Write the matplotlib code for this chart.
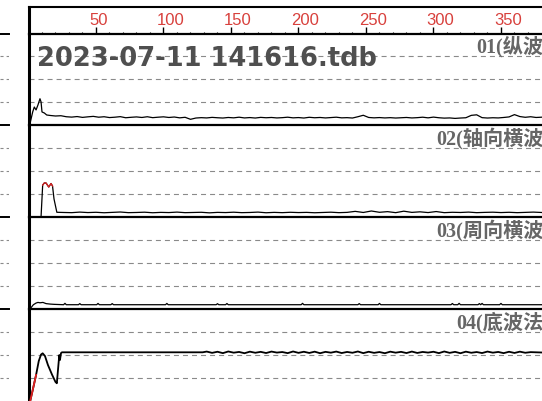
import numpy as np
import matplotlib
matplotlib.use("Agg")
import matplotlib.pyplot as plt
from matplotlib.transforms import blended_transform_factory, ScaledTranslation

plt.rcParams['lines.scale_dashes'] = False

# ---- data ----
title = "2023-07-11 141616.tdb"
channel_labels = ["01(纵波)", "02(轴向横波)", "03(周向横波)", "04(底波法)"]
ruler_major = [50, 100, 150, 200, 250, 300, 350]
ruler_minor = [10, 20, 30, 40, 60, 70, 80, 90, 110, 120, 130, 140, 160, 170, 180, 190,
               210, 220, 230, 240, 260, 270, 280, 290, 310, 320, 330, 340, 360, 370]
grid_levels = [25, 50, 75]

x1 = [1.1, 3.1, 4.3, 5.6, 7.0, 8.5, 9.3, 10.0, 11.7, 13.5,
      16, 20, 24, 28, 32, 36, 40, 44, 48, 52,
      56, 60, 64, 68, 72, 76, 80, 84, 88, 92,
      96, 100, 104, 108, 112, 116, 120, 124, 128, 132,
      136, 140, 144, 148, 152, 156, 160, 164, 168, 172,
      176, 180, 184, 188, 192, 196, 200, 204, 208, 212,
      216, 220, 224, 228, 232, 236, 240, 244, 248, 252,
      256, 260, 264, 268, 272, 276, 280, 284, 288, 292,
      296, 300, 304, 308, 312, 316, 320, 324, 328, 332,
      336, 340, 344, 348, 352, 356, 360, 364, 368, 372,
      376, 380]
y1 = [1.8, 14.6, 20.0, 16.8, 22.2, 29.0, 25.5, 14.6, 13.5, 11.3,
      10.8, 10.2, 10.5, 9.4, 9.0, 9.6, 8.7, 9.3, 9.8, 8.9,
      9.4, 8.5, 8.9, 9.5, 8.3, 8.8, 9.2, 8.6, 9.4, 8.4,
      8.9, 9.3, 8.6, 9.1, 8.2, 8.8, 6.6, 8.0, 8.4, 8.1,
      8.7, 8.3, 8.0, 8.6, 8.2, 8.9, 8.1, 8.5, 8.0, 8.7,
      8.3, 8.6, 8.1, 8.4, 8.9, 8.2, 8.5, 8.0, 8.8, 8.3,
      8.6, 8.1, 8.5, 8.9, 8.2, 8.4, 8.0, 9.4, 11.0, 8.6,
      8.2, 8.5, 8.1, 8.4, 8.0, 8.3, 8.6, 8.1, 8.4, 8.9,
      8.2, 9.0, 8.3, 7.9, 8.1, 7.6, 8.0, 8.3, 10.9, 11.5,
      8.4, 8.0, 8.3, 8.1, 8.6, 9.2, 11.7, 9.6, 8.8, 9.4,
      8.6, 8.9]

x2 = [0, 9.3, 10.5, 11.7, 13.0, 15.0, 16.7, 17.8, 18.9, 21.0,
      26, 32, 38, 44, 50, 56, 62, 68, 74, 80,
      86, 92, 98, 104, 110, 116, 122, 128, 134, 140,
      146, 152, 158, 164, 170, 176, 182, 188, 194, 200,
      206, 212, 218, 224, 230, 236, 242, 248, 254, 260,
      266, 272, 278, 284, 290, 296, 302, 308, 314, 320,
      326, 332, 338, 344, 350, 356, 362, 368, 374, 380]
y2 = [0.6, 0.6, 35.0, 37.3, 37.3, 32.9, 36.7, 34.0, 19.9, 5.4,
      5.2, 5.0, 5.6, 5.1, 5.4, 4.9, 5.3, 5.7, 5.0, 5.2,
      5.5, 4.9, 5.3, 5.1, 5.6, 5.0, 5.2, 5.4, 4.8, 5.3,
      5.1, 5.5, 5.0, 5.2, 5.6, 4.9, 5.3, 5.0, 5.4, 5.1,
      5.3, 4.9, 5.2, 5.5, 5.0, 5.3, 6.4, 5.2, 6.8, 5.4,
      6.1, 5.0, 6.6, 5.3, 5.9, 5.1, 6.2, 5.0, 5.4, 5.2,
      5.6, 5.0, 5.3, 5.5, 5.1, 5.4, 5.0, 5.3, 5.6, 5.2]

x3 = [1.1, 3.6, 5.6, 7.0, 8.5, 10.7, 13.0, 16.0, 19.0, 26,
      27, 28, 37, 38, 39, 50.5, 51.5, 52.5, 61, 62,
      63, 101.5, 102.5, 103.5, 139, 140, 141, 146, 147, 148,
      202, 203, 204, 244, 245, 246, 259, 260, 261, 313,
      314, 315, 318, 319, 320, 333, 334, 335, 336, 337,
      338, 349, 350, 351, 380]
y3 = [0.1, 4.8, 6.6, 7.3, 6.9, 7.3, 6.0, 5.5, 5.2, 4.8,
      6.3, 4.8, 4.8, 6.0, 4.8, 4.8, 6.2, 4.8, 4.8, 6.0,
      4.8, 4.8, 6.2, 4.8, 4.8, 5.9, 4.8, 4.8, 6.1, 4.8,
      4.8, 6.3, 4.8, 4.8, 6.0, 4.8, 4.8, 6.2, 4.8, 4.8,
      6.1, 4.8, 4.8, 6.3, 4.8, 4.8, 6.0, 4.8, 6.2, 4.8,
      4.8, 4.8, 6.2, 4.8, 4.8]

x4 = [1.1, 3.3, 5.6, 7.6, 9.3, 10.5, 12.2, 14.4, 17.4, 20.0,
      21.0, 21.9, 22.8, 23.3, 24.1, 24.8, 129,
      132, 136, 140, 144, 148, 152, 156, 160, 164, 168,
      172, 176, 180, 184, 188, 192, 196, 200, 204, 208,
      212, 216, 220, 224, 228, 232, 236, 240, 244, 248,
      252, 256, 260, 264, 268, 272, 276, 280, 284, 288,
      292, 296, 300, 304, 308, 312, 316, 320, 324, 328,
      332, 336, 340, 344, 348, 352, 356, 360, 364, 368,
      372, 376, 380]
y4 = [-1.0, 13.0, 28.3, 43.5, 50.6, 51.9, 49.0, 39.2, 28.8, 20.7,
      19.3, 34.8, 50.0, 44.6, 52.2, 53.0, 53.0,
      53.8, 52.4, 53.6, 52.1, 53.9, 52.6, 53.4, 52.0, 53.7, 52.5,
      53.5, 52.2, 53.8, 52.7, 53.3, 52.1, 53.9, 52.4, 53.6, 52.3,
      53.7, 52.0, 53.5, 52.6, 53.8, 52.2, 53.4, 52.5, 53.9, 52.1,
      53.6, 52.4, 53.3, 52.0, 53.7, 52.6, 53.5, 52.2, 53.8, 52.3,
      53.4, 52.7, 53.6, 52.1, 53.9, 52.4, 53.5, 52.0, 53.7, 52.5,
      53.3, 52.2, 53.8, 52.6, 53.4, 52.1, 53.6, 52.3, 53.7, 52.5,
      53.2, 53.0, 52.8]

traces = [(x1, y1), (x2, y2), (x3, y3), (x4, y4)]
red_spans = [None, (10.4, 17.9), None, (0.0, 5.7)]
trace_lw = [0.9, 0.9, 0.9, 1.3]

# ---- layout (pixels) ----
W, H = 542, 402
left_px, ruler_top_px, top_px = 28.5, 8, 34.5
panel_h = (H - top_px) / 4
x_range = (0, 380.4)

fig = plt.figure(figsize=(W / 100, H / 100), dpi=100)
fig.patch.set_facecolor('white')

# ruler at top
ax_r = fig.add_axes([left_px / W, 1 - top_px / H, 1 - left_px / W, (top_px - ruler_top_px) / H])
ax_r.set_xlim(*x_range)
ax_r.set_ylim(0, 1)
ax_r.set_yticks([])
ax_r.set_xticks(ruler_major)
ax_r.set_xticks(ruler_minor, minor=True)
ax_r.tick_params(axis='x', which='major', direction='in', length=5, width=1, labelbottom=False)
ax_r.tick_params(axis='x', which='minor', direction='in', length=1.6, width=0.8)
ax_r.spines['right'].set_visible(False)
ax_r.spines['top'].set_linewidth(1.5)
ax_r.spines['left'].set_linewidth(2.2)
ax_r.spines['bottom'].set_linewidth(1.0)
lab_tr = blended_transform_factory(ax_r.transData, ax_r.transAxes) + \
    ScaledTranslation(-7 / 100, 0, fig.dpi_scale_trans)
for t in ruler_major:
    ax_r.text(t, 0.36, str(t), transform=lab_tr, ha='left', va='baseline',
              fontsize=12, color='#d8403c', family='Liberation Sans')

# channel panels
for i, (xs, ys) in enumerate(traces):
    bottom = 1 - (top_px + (i + 1) * panel_h) / H
    ax = fig.add_axes([left_px / W, bottom, 1 - left_px / W, panel_h / H])
    ax.set_xlim(*x_range)
    ax.set_ylim(0, 100)
    ax.set_xticks([])
    ax.set_yticks([])
    for s in ['right', 'bottom']:
        ax.spines[s].set_visible(False)
    ax.spines['top'].set_linewidth(1.6)
    ax.spines['left'].set_linewidth(2.2)
    for g in grid_levels:
        ax.axhline(g, color='#8a8a8a', lw=0.8, dashes=(3.6, 2.9), zorder=1)

    xs = np.asarray(xs, dtype=float)
    ys = np.asarray(ys, dtype=float)
    ax.plot(xs, ys, color='black', lw=trace_lw[i], zorder=3)
    if red_spans[i] is not None:
        lo, hi = red_spans[i]
        yr = np.where((xs >= lo) & (xs <= hi), ys, np.nan)
        ax.plot(xs, yr, color='#e02020', lw=trace_lw[i], zorder=4)

    # channel name is right-aligned past the visible edge, as in the source window
    ax.text(1.0155, 0.867, channel_labels[i], transform=ax.transAxes, ha='right', va='center',
            fontsize=14.5, fontweight='bold', color='#666666',
            family=['Liberation Serif', 'Noto Sans CJK SC'], zorder=5)

    if i == 0:
        ax.text(0.0166, 0.654, title, transform=ax.transAxes, ha='left', va='baseline',
                fontsize=18.5, fontweight='bold', color='#4f4f4f', family='DejaVu Sans', zorder=5)

    # fragment of the neighbouring window on the far left
    ax_l = fig.add_axes([0, bottom, 9 / W, panel_h / H])
    ax_l.set_xlim(0, 1)
    ax_l.set_ylim(0, 100)
    ax_l.set_xticks([])
    ax_l.set_yticks([])
    for s in ['right', 'bottom', 'left']:
        ax_l.spines[s].set_visible(False)
    ax_l.spines['top'].set_linewidth(1.4)
    for g in grid_levels:
        ax_l.axhline(g, color='#8a8a8a', lw=0.8, dashes=(2.2, 2.2))

fig.savefig('out.png', dpi=100)
